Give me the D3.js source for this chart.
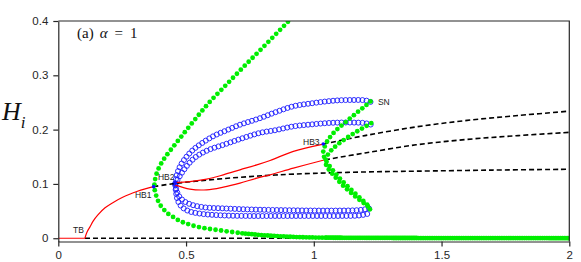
<!DOCTYPE html>
<html><head><meta charset="utf-8">
<script src="https://cdn.jsdelivr.net/npm/d3@7"></script>
<style>
body{margin:0;background:#fff}
svg{display:block}
</style></head><body>
<svg width="581" height="262"></svg>
<script>
// axis ticks
const xTicks = [0, 0.5, 1, 1.5, 2]
const xTickLabels = ["0", "0.5", "1", "1.5", "2"]
const yTicks = [0, 0.1, 0.2, 0.3, 0.4]
const yTickLabels = ["0", "0.1", "0.2", "0.3", "0.4"]

// steady states, stable (red) and unstable (dashed)
const redTrivial = [[0, 0], [0.1045, 0]]
const redBranch = [[0.1045, 0], [0.108, 0.006], [0.114, 0.013], [0.124, 0.021], [0.137, 0.032], [0.155, 0.043],
  [0.183, 0.056], [0.215, 0.066], [0.254, 0.076], [0.307, 0.086], [0.34, 0.091], [0.373, 0.095]]
const dashZero = [[0.1045, 0], [2, 0]]
const dashLow = [[0.373, 0.095], [0.458, 0.101], [0.55, 0.1055], [0.65, 0.110], [0.75, 0.1135], [0.85, 0.1165],
  [1.0, 0.1195], [1.2, 0.122], [1.4, 0.1235], [1.7, 0.1255], [2.0, 0.127]]
const dashMid = [[1.044, 0.1445], [1.2, 0.157], [1.4, 0.172], [1.6, 0.182], [1.8, 0.189], [2.0, 0.195]]
const dashTop = [[1.037, 0.1734], [1.2, 0.189], [1.4, 0.205], [1.6, 0.217], [1.8, 0.226], [2.0, 0.234]]

// stable periodic orbits between HB2 and HB3 (red, max / min)
const redUpper = [[0.457, 0.1026], [0.515, 0.1044], [0.581, 0.1089], [0.646, 0.1168], [0.711, 0.126],
  [0.777, 0.1352], [0.829, 0.1432], [0.92, 0.160], [1.037, 0.1734]]
const redLower = [[0.457, 0.0983], [0.515, 0.0904], [0.581, 0.0891], [0.646, 0.0941], [0.711, 0.1015],
  [0.777, 0.1107], [0.829, 0.1168], [0.92, 0.129], [1.044, 0.1445]]

// unstable periodic orbits from HB2 (blue circles)
const blueOuter = [[0.458, 0.101], [0.463, 0.115], [0.476, 0.132], [0.50, 0.149], [0.528, 0.163], [0.565, 0.176],
  [0.607, 0.188], [0.66, 0.199], [0.711, 0.209], [0.789, 0.221], [0.85, 0.232], [0.92, 0.243], [1.0, 0.249],
  [1.05, 0.252], [1.1, 0.254], [1.15, 0.2545], [1.2, 0.254], [1.222, 0.251]]
const blueInner = [[0.458, 0.101], [0.47, 0.110], [0.483, 0.120], [0.51, 0.137], [0.542, 0.151], [0.59, 0.163],
  [0.646, 0.172], [0.72, 0.184], [0.789, 0.194], [0.85, 0.199], [0.92, 0.206], [1.0, 0.210], [1.05, 0.212],
  [1.1, 0.213], [1.15, 0.213], [1.2, 0.212], [1.225, 0.209]]
const blueMinA = [[0.458, 0.099], [0.463, 0.088], [0.472, 0.078], [0.49, 0.069], [0.52, 0.062], [0.57, 0.057],
  [0.646, 0.055], [0.75, 0.053], [0.85, 0.052], [1.0, 0.051], [1.1, 0.051], [1.18, 0.052], [1.22, 0.055]]
const blueMinB = [[0.458, 0.097], [0.461, 0.083], [0.468, 0.069], [0.483, 0.058], [0.51, 0.050], [0.56, 0.045],
  [0.646, 0.042], [0.75, 0.041], [0.85, 0.041], [1.0, 0.041], [1.1, 0.041], [1.18, 0.042], [1.22, 0.046]]

// stable branches (green dots)
const greenOuter = [[0.93, 0.413], [0.9, 0.399], [0.8, 0.351], [0.72, 0.313], [0.65, 0.279], [0.587, 0.248],
  [0.52, 0.210], [0.476, 0.184], [0.444, 0.165], [0.424, 0.153], [0.407, 0.141], [0.394, 0.130], [0.384, 0.118],
  [0.378, 0.106], [0.376, 0.095], [0.379, 0.085], [0.385, 0.076], [0.395, 0.064], [0.411, 0.054], [0.43, 0.045],
  [0.45, 0.039], [0.475, 0.032], [0.502, 0.027], [0.555, 0.020], [0.633, 0.0145], [0.72, 0.009]]
const greenTail = [[0.72, 0.009], [0.82, 0.005], [0.946, 0.002], [1.05, 0.001]]
const greenFlat = [[1.05, 0.001], [1.3, 0.0005], [1.6, 0.0003], [2.0, 0.0002]]
const greenSN = [[1.222, 0.252], [1.2, 0.243], [1.168, 0.231], [1.14, 0.220], [1.115, 0.210], [1.09, 0.200],
  [1.07, 0.190], [1.053, 0.179], [1.042, 0.168], [1.037, 0.159], [1.04, 0.150], [1.05, 0.141], [1.065, 0.131],
  [1.085, 0.119], [1.11, 0.106], [1.14, 0.092], [1.17, 0.079], [1.195, 0.068], [1.215, 0.058], [1.222, 0.050]]
const greenInner = [[1.225, 0.212], [1.2, 0.205], [1.17, 0.197], [1.13, 0.185], [1.1, 0.175], [1.075, 0.165],
  [1.058, 0.156], [1.048, 0.147], [1.046, 0.139], [1.052, 0.131], [1.065, 0.123], [1.085, 0.112], [1.11, 0.099],
  [1.14, 0.086], [1.17, 0.074], [1.2, 0.063], [1.222, 0.055]]

// bifurcation points and their labels
const hopfPoints = [[0.373, 0.095], [0.458, 0.101], [1.037, 0.1734]]
const pointLabels = [
  {text: "TB", at: [0.0575, 0.0098]},
  {text: "HB1", at: [0.30, 0.0744]},
  {text: "HB2", at: [0.390, 0.1076]},
  {text: "HB3", at: [0.958, 0.172]},
  {text: "SN", at: [1.251, 0.246]}
]

var svg = d3.select("svg")

var x = d3.scaleLinear().domain([0, 2]).range([58.3, 569.3])
var y = d3.scaleLinear().domain([-0.006, 0.4]).range([241.5, 21])

svg.append("clipPath").attr("id", "plot").append("rect")
    .attr("x", x(0)).attr("y", y(0.4))
    .attr("width", x(2) - x(0)).attr("height", y(-0.006) - y(0.4))

var g = svg.append("g").attr("clip-path", "url(#plot)")

var line = d3.line()
    .x(function(d) { return x(d[0]); })
    .y(function(d) { return y(d[1]); })
    .curve(d3.curveCatmullRom)

const drawLine = (data, color, width, dash) => {
  g.append("path")
      .attr("d", line(data))
      .attr("fill", "none")
      .attr("stroke", color)
      .attr("stroke-width", width)
      .attr("stroke-dasharray", dash || null)
}

// marker positions along the curve, like a line drawn with markers
const along = (data, step) => {
  const p = g.append("path").attr("d", line(data))
  const node = p.node(), len = node.getTotalLength()
  const pts = d3.range(0, len + 0.5, step).map((l) => node.getPointAtLength(Math.min(l, len)))
  p.remove()
  return pts
}

const drawCircles = (data, step) => {
  g.append("g").selectAll("circle")
    .data(along(data, step))
    .enter().append("circle")
      .attr("cx", (d) => d.x).attr("cy", (d) => d.y)
      .attr("r", 2.5)
      .attr("fill", "none")
      .attr("stroke", "#1a1aff")
      .attr("stroke-width", 0.9)
}

const drawDots = (data, step) => {
  g.append("g").selectAll("circle")
    .data(along(data, step))
    .enter().append("circle")
      .attr("cx", (d) => d.x).attr("cy", (d) => d.y)
      .attr("r", 2.4)
      .attr("fill", "#00ee00")
}

// blue unstable orbits
;[blueMinB, blueMinA, blueInner, blueOuter].forEach((d) => drawCircles(d, 4.2))

// dashed unstable steady states
;[dashZero, dashLow, dashMid, dashTop].forEach((d) => drawLine(d, "#000", 1.6, "5,3"))

// red stable solutions
;[redTrivial, redBranch, redUpper, redLower].forEach((d) => drawLine(d, "#ff0000", 1.2))

// green stable branches
drawDots(greenOuter, 5.6)
drawDots(greenTail, 3.2)
drawDots(greenFlat, 1.8)
drawDots(greenSN, 5.4)
drawDots(greenInner, 5.4)

g.append("g").selectAll("circle")
  .data(hopfPoints)
  .enter().append("circle")
    .attr("cx", (d) => x(d[0])).attr("cy", (d) => y(d[1]))
    .attr("r", 1.8)
    .attr("fill", "#1010ff")

svg.append("g")
    .attr("font-family", "Liberation Sans, Arial, sans-serif")
    .attr("font-size", 8.5)
    .attr("fill", "#222")
  .selectAll("text")
  .data(pointLabels)
  .enter().append("text")
    .attr("x", (d) => x(d.at[0]))
    .attr("y", (d) => y(d.at[1]))
    .text((d) => d.text)

// axes
const axisColor = "#262626"

svg.append("g")
    .attr("transform", "translate(0," + y(-0.006) + ")")
    .call(d3.axisBottom(x).tickValues(xTicks).tickFormat((d, i) => xTickLabels[i])
      .tickSize(5).tickSizeOuter(0).tickPadding(4))
    .call((a) => a.selectAll("text").attr("font-size", 11.5).attr("font-family", "Liberation Sans, Arial, sans-serif").attr("fill", axisColor))
    .call((a) => a.selectAll("line,path").attr("stroke", axisColor).attr("stroke-width", 1.2))

svg.append("g")
    .attr("transform", "translate(" + x(0) + ",0)")
    .call(d3.axisLeft(y).tickValues(yTicks).tickFormat((d, i) => yTickLabels[i])
      .tickSize(5).tickSizeOuter(0).tickPadding(5))
    .call((a) => a.selectAll("text").attr("font-size", 11.5).attr("font-family", "Liberation Sans, Arial, sans-serif").attr("fill", axisColor))
    .call((a) => a.selectAll("line,path").attr("stroke", axisColor).attr("stroke-width", 1.2))

svg.append("path")
    .attr("d", "M" + x(0) + "," + y(0.4) + "H" + x(2) + "V" + y(-0.006))
    .attr("fill", "none")
    .attr("stroke", axisColor)
    .attr("stroke-width", 1.2)

// y label and panel title
var ylab = svg.append("text")
    .attr("x", 2)
    .attr("y", 120)
    .attr("font-family", "Liberation Serif, serif")
    .attr("font-style", "italic")
    .attr("font-size", 26)
    .attr("fill", "#111")
ylab.append("tspan").text("H")
ylab.append("tspan").attr("dy", 8).attr("font-size", 17).text("i")

var title = svg.append("text")
    .attr("x", 77)
    .attr("y", 38)
    .attr("font-family", "Liberation Serif, serif")
    .attr("font-size", 15)
    .attr("fill", "#111")
title.append("tspan").text("(a)")
title.append("tspan").attr("dx", 6).attr("font-style", "italic").text("α")
title.append("tspan").attr("dx", 7).text("=")
title.append("tspan").attr("dx", 7).text("1")
</script>
</body></html>
